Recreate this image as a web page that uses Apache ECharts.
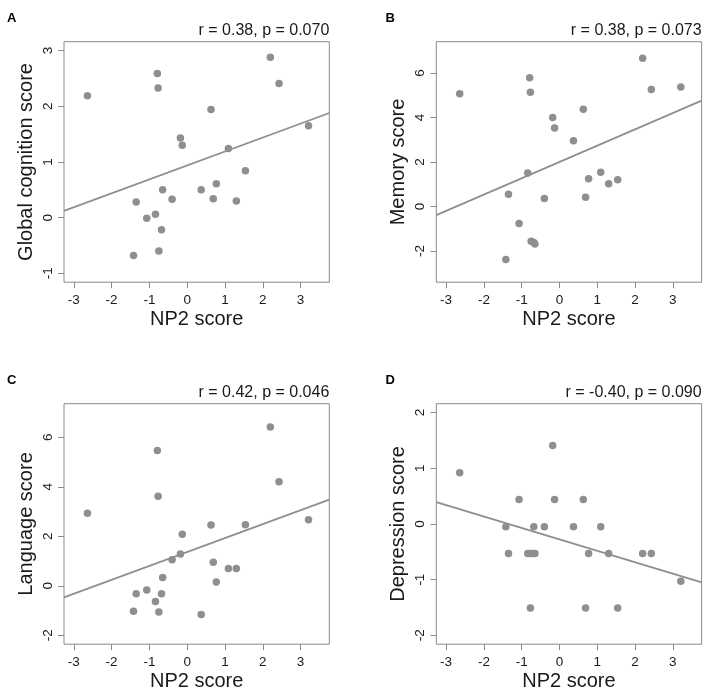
<!DOCTYPE html>
<html><head><meta charset="utf-8">
<script src="https://cdn.jsdelivr.net/npm/echarts@6/dist/echarts.min.js"></script>
<style>html,body{margin:0;padding:0;background:#fff}#chart{width:708px;height:697px}</style>
</head><body><div id="chart"></div>
<script>
// NP2 score (shared x for all panels)
const npX = [-2.64, -1.42, -1.35, -1.07, -0.84, -0.79, -0.77, -0.75, -0.68, -0.65, -0.40, -0.18, -0.13, 0.37, 0.63, 0.69, 0.77, 1.09, 1.30, 1.54, 2.20, 2.43, 3.21];
const globalCognition = [2.19, -0.68, 0.28, -0.01, 0.06, 2.59, 2.33, -0.60, -0.22, 0.50, 0.33, 1.43, 1.30, 0.50, 1.94, 0.34, 0.61, 1.24, 0.30, 0.84, 2.88, 2.41, 1.65];
const memory = [5.06, -2.38, 0.55, -0.76, 1.50, 5.78, 5.13, -1.56, -1.62, -1.68, 0.36, 4.00, 3.52, 2.95, 4.37, 0.42, 1.24, 1.54, 1.02, 1.20, 6.66, 5.25, 5.37];
const language = [2.93, -1.03, -0.32, -0.17, -0.63, 5.47, 3.62, -1.06, -0.32, 0.34, 1.05, 1.29, 2.08, -1.16, 2.46, 0.95, 0.15, 0.70, 0.70, 2.47, 6.42, 4.21, 2.67];
const depression = [0.92, -0.05, -0.53, 0.44, -0.53, -0.53, -1.51, -0.53, -0.05, -0.53, -0.05, 1.41, 0.44, -0.05, 0.44, -1.51, -0.53, -0.05, -0.53, -1.51, -0.53, -0.53, -1.03];

const xTicks = [-3, -2, -1, 0, 1, 2, 3];
const yTicksA = [-1, 0, 1, 2, 3];
const yTicksB = [-2, 0, 2, 4, 6];
const yTicksC = [-2, 0, 2, 4, 6];
const yTicksD = [-2, -1, 0, 1, 2];
const xRange = [-3, 3.5];
const yRangeA = [-1, 3];
const yRangeB = [-3, 7];
const yRangeC = [-2, 7];
const yRangeD = [-2, 2];

const panelLetters = ['A', 'B', 'C', 'D'];
const yNames = ['Global cognition score', 'Memory score', 'Language score', 'Depression score'];
const statLabels = ['r = 0.38, p = 0.070', 'r = 0.38, p = 0.073', 'r = 0.42, p = 0.046', 'r = -0.40, p = 0.090'];
const xName = 'NP2 score';

const FONT = '"Liberation Sans", Arial, Helvetica, sans-serif';
const GRAY = '#8f8f8f';
const BOX = '#8a8a8a';
const TXT = '#1a1a1a';

// R-style 4% axis expansion
function expand(r) { const d = (r[1] - r[0]) * 0.04; return [r[0] - d, r[1] + d]; }
function fit(x, y) {
  const n = x.length;
  let mx = 0, my = 0;
  for (let i = 0; i < n; i++) { mx += x[i]; my += y[i]; }
  mx /= n; my /= n;
  let sxy = 0, sxx = 0;
  for (let i = 0; i < n; i++) { sxy += (x[i] - mx) * (y[i] - my); sxx += (x[i] - mx) ** 2; }
  const b = sxy / sxx;
  return { a: my - b * mx, b: b };
}

const panels = [
  { y: globalCognition, ticks: yTicksA, range: yRangeA, left: 64, top: 41.7 },
  { y: memory, ticks: yTicksB, range: yRangeB, left: 436.3, top: 41.7 },
  { y: language, ticks: yTicksC, range: yRangeC, left: 64, top: 403.7 },
  { y: depression, ticks: yTicksD, range: yRangeD, left: 436.3, top: 403.7 }
];
const W = 265.3, H = 240.5;
const xr = expand(xRange);

const grid = [], xAxis = [], yAxis = [], series = [], graphic = [];
panels.forEach((p, i) => {
  grid.push({ left: p.left, top: p.top, width: W, height: H, show: true, borderColor: BOX, borderWidth: 1, backgroundColor: 'transparent' });
  const yr = expand(p.range);
  xAxis.push({
    type: 'value', gridIndex: i, min: xr[0], max: xr[1],
    axisLine: { show: false, onZero: false },
    splitLine: { show: false },
    axisTick: { show: true, customValues: xTicks, length: 6, lineStyle: { color: BOX, width: 1 } },
    axisLabel: { customValues: xTicks, margin: 11, fontSize: 13.5, color: TXT, fontFamily: FONT },
    name: xName, nameLocation: 'middle', nameGap: 27,
    nameTextStyle: { fontSize: 20, color: TXT, fontFamily: FONT }
  });
  yAxis.push({
    type: 'value', gridIndex: i, min: yr[0], max: yr[1],
    axisLine: { show: false, onZero: false },
    splitLine: { show: false },
    axisTick: { show: true, customValues: p.ticks, length: 6, lineStyle: { color: BOX, width: 1 } },
    axisLabel: { customValues: p.ticks, rotate: 90, margin: 9, fontSize: 13.5, color: TXT, fontFamily: FONT },
    name: yNames[i], nameLocation: 'middle', nameGap: 28,
    nameTextStyle: { fontSize: 20, color: TXT, fontFamily: FONT }
  });
  const f = fit(npX, p.y);
  series.push({
    type: 'line', xAxisIndex: i, yAxisIndex: i, showSymbol: false, silent: true, clip: true,
    data: [[xr[0], f.a + f.b * xr[0]], [xr[1], f.a + f.b * xr[1]]],
    lineStyle: { color: GRAY, width: 1.8 }, z: 2
  });
  series.push({
    type: 'scatter', xAxisIndex: i, yAxisIndex: i, symbolSize: 7.5,
    data: npX.map((x, k) => [x, p.y[k]]),
    itemStyle: { color: GRAY, opacity: 1 }, z: 3
  });
  graphic.push({
    type: 'text', x: p.left + W, y: p.top - 11.5,
    style: { text: statLabels[i], align: 'right', verticalAlign: 'middle', fontSize: 16, fontFamily: FONT, fill: TXT }
  });
  graphic.push({
    type: 'text', x: p.left < 100 ? 7 : 385.5, y: p.top < 100 ? 18.5 : 380,
    style: { text: panelLetters[i], align: 'left', verticalAlign: 'middle', fontSize: 13, fontWeight: 'bold', fontFamily: FONT, fill: '#000' }
  });
});

const chart = echarts.init(document.getElementById('chart'), null, { renderer: 'canvas' });
chart.setOption({
  backgroundColor: '#fff',
  animation: false,
  grid, xAxis, yAxis, series, graphic
});
</script>
</body></html>
